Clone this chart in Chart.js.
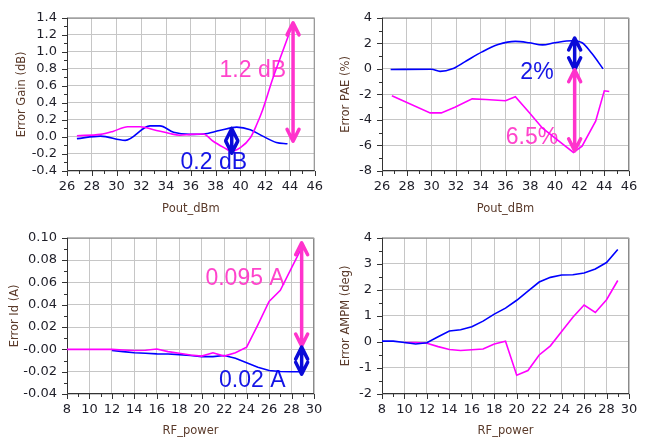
<!DOCTYPE html>
<html>
<head>
<meta charset="utf-8">
<script src="https://cdn.jsdelivr.net/npm/chart.js@4/dist/chart.umd.min.js"></script>
<style>
  html, body { margin: 0; padding: 0; background: #fff; width: 662px; height: 439px; overflow: hidden; }
  canvas { position: absolute; display: block; }
</style>
</head>
<body>
<canvas id="gain" width="331" height="220" style="left:0;top:0"></canvas>
<canvas id="pae" width="331" height="220" style="left:331px;top:0"></canvas>
<canvas id="id" width="331" height="219" style="left:0;top:220px"></canvas>
<canvas id="ampm" width="331" height="219" style="left:331px;top:220px"></canvas>
<script>
// ---- Error Gain (dB) vs Pout_dBm ----
const gainBlueX = [26.8, 28.7, 30.7, 32.7, 33.5, 34.6, 35.9, 37.0, 38.3, 39.7, 40.8, 41.8, 42.9, 43.8];
const gainBlueY = [-0.02, 0.01, -0.04, 0.13, 0.13, 0.055, 0.03, 0.035, 0.075, 0.115, 0.085, 0.01, -0.065, -0.08];
const gainPinkX = [26.8, 28.7, 29.7, 30.9, 31.9, 33.0, 34.3, 35.1, 36.0, 37.0, 37.8, 38.9, 39.2, 40.0, 40.8, 41.3, 41.8, 42.6, 43.4, 44.1];
const gainPinkY = [0.015, 0.03, 0.065, 0.12, 0.12, 0.085, 0.04, 0.02, 0.03, 0.035, -0.05, -0.145, -0.17, -0.125, -0.01, 0.14, 0.32, 0.68, 1.0, 1.28];
const gainXTicks = ['26', '28', '30', '32', '34', '36', '38', '40', '42', '44', '46'];
const gainYTicks = ['-0.4', '-0.2', '0.0', '0.2', '0.4', '0.6', '0.8', '1.0', '1.2', '1.4'];

// ---- Error PAE (%) vs Pout_dBm ----
const paeBlueX = [26.7, 30.0, 30.7, 31.7, 32.7, 34.1, 35.4, 36.8, 37.9, 39.0, 40.0, 41.4, 42.2, 43.0, 43.9];
const paeBlueY = [-0.05, -0.03, -0.2, 0.0, 0.55, 1.33, 1.9, 2.15, 2.05, 1.88, 2.05, 2.2, 2.05, 1.2, 0.0];
const paePinkX = [26.8, 29.9, 30.8, 31.9, 33.3, 34.4, 36.0, 36.8, 37.9, 39.0, 40.3, 41.5, 42.2, 43.3, 44.0, 44.4];
const paePinkY = [-2.1, -3.45, -3.45, -3.0, -2.35, -2.4, -2.5, -2.18, -3.4, -4.65, -5.65, -6.55, -6.05, -4.1, -1.72, -1.77];
const paeXTicks = ['26', '28', '30', '32', '34', '36', '38', '40', '42', '44', '46'];
const paeYTicks = ['-8', '-6', '-4', '-2', '0', '2', '4'];

// ---- Error Id (A) vs RF_power ----
const idPinkX = [8, 9, 10, 11, 12, 13, 14, 15, 16, 17, 18, 19, 20, 21, 22, 23, 24, 25, 26, 27, 28, 29];
const idPinkY = [0, 0, 0, 0, 0, -0.0005, -0.001, -0.0008, 0.0003, -0.002, -0.0035, -0.005, -0.006, -0.003, -0.006, -0.003, 0.002, 0.022, 0.043, 0.053, 0.073, 0.093];
const idBlueX = [12, 13, 14, 15, 16, 17, 18, 19, 20, 21, 22, 23, 24, 25, 26, 27, 28, 29];
const idBlueY = [-0.001, -0.002, -0.003, -0.0035, -0.004, -0.0042, -0.0047, -0.0055, -0.0065, -0.0065, -0.0055, -0.008, -0.012, -0.016, -0.019, -0.0198, -0.02, -0.02];
const idXTicks = ['8', '10', '12', '14', '16', '18', '20', '22', '24', '26', '28', '30'];
const idYTicks = ['-0.04', '-0.02', '-0.00', '0.02', '0.04', '0.06', '0.08', '0.10'];

// ---- Error AMPM (deg) vs RF_power ----
const ampmBlueX = [8, 9, 10, 11, 12, 13, 14, 15, 16, 17, 18, 19, 20, 21, 22, 23, 24, 25, 26, 27, 28, 29];
const ampmBlueY = [0.03, 0.03, -0.02, -0.08, -0.03, 0.2, 0.42, 0.47, 0.58, 0.8, 1.07, 1.3, 1.6, 1.95, 2.3, 2.48, 2.57, 2.58, 2.65, 2.8, 3.05, 3.55];
const ampmPinkX = [10, 11, 12, 13, 14, 15, 16, 17, 18, 19, 20, 21, 22, 23, 24, 25, 26, 27, 28, 29];
const ampmPinkY = [-0.02, -0.02, -0.05, -0.18, -0.29, -0.33, -0.3, -0.27, -0.08, 0.03, -1.28, -1.1, -0.5, -0.15, 0.4, 0.95, 1.42, 1.13, 1.62, 2.36];
const ampmXTicks = ['8', '10', '12', '14', '16', '18', '20', '22', '24', '26', '28', '30'];
const ampmYTicks = ['-2', '-1', '0', '1', '2', '3', '4'];

const BLUE = '#0000ff';
const PINK = '#ff00ff';
const ARROW_BLUE = '#0a0ad8';
const ARROW_PINK = '#ff33cc';
const TEXT_BLUE = '#1414e6';
const TEXT_PINK = '#ff44cc';

const TICK_FONT = { family: 'DejaVu Sans', size: 13 };
const TITLE_FONT = { family: 'DejaVu Sans', size: 11.5 };
const NOTE_FONT = '23px "Liberation Sans", Arial, sans-serif';

function points(xs, ys) {
  return xs.map((x, i) => ({ x: x, y: ys[i] }));
}

function drawArrow(ctx, x, yTop, yBot, color) {
  const hw = 6, hl = 12;
  ctx.save();
  ctx.strokeStyle = color;
  ctx.lineWidth = 3.5;
  ctx.lineCap = 'round';
  ctx.lineJoin = 'round';
  ctx.beginPath();
  ctx.moveTo(x, yTop + 1);
  ctx.lineTo(x, yBot - 1);
  ctx.moveTo(x - hw, yTop + hl);
  ctx.lineTo(x, yTop);
  ctx.lineTo(x + hw, yTop + hl);
  ctx.moveTo(x - hw, yBot - hl);
  ctx.lineTo(x, yBot);
  ctx.lineTo(x + hw, yBot - hl);
  ctx.stroke();
  ctx.restore();
}

// Axis frame, minor/major tick marks, value notes and double arrows
const decorPlugin = {
  id: 'decor',
  beforeDatasetsDraw(chart, args, opts) {
    const { ctx, chartArea: a, scales: { x, y } } = chart;
    ctx.save();
    // notes sit underneath the curves
    ctx.font = NOTE_FONT;
    ctx.textAlign = 'center';
    ctx.textBaseline = 'middle';
    (opts.notes || []).forEach(n => {
      ctx.fillStyle = n.color;
      ctx.fillText(n.text, x.getPixelForValue(n.x), y.getPixelForValue(n.y));
    });
    // frame
    ctx.lineWidth = 1;
    ctx.strokeStyle = '#8a8a8a';
    ctx.beginPath();
    ctx.moveTo(a.left, a.top + 0.5);
    ctx.lineTo(a.right - 0.5, a.top + 0.5);
    ctx.lineTo(a.right - 0.5, a.bottom);
    ctx.stroke();
    ctx.strokeStyle = '#333';
    ctx.beginPath();
    ctx.moveTo(a.left + 0.5, a.top);
    ctx.lineTo(a.left + 0.5, a.bottom - 0.5);
    ctx.lineTo(a.right, a.bottom - 0.5);
    ctx.stroke();
    // tick marks
    ctx.beginPath();
    y.ticks.forEach((t, i) => {
      const p = Math.round(y.getPixelForValue(t.value)) + 0.5;
      const len = i % 2 === 0 ? 5 : 3;
      ctx.moveTo(a.left - len, p);
      ctx.lineTo(a.left, p);
    });
    x.ticks.forEach((t, i) => {
      const p = Math.round(x.getPixelForValue(t.value)) + 0.5;
      const len = i % 2 === 0 ? 5 : 3;
      ctx.moveTo(p, a.bottom);
      ctx.lineTo(p, a.bottom + len);
    });
    ctx.stroke();
    ctx.restore();
  },
  afterDatasetsDraw(chart, args, opts) {
    const { ctx, scales: { x, y } } = chart;
    (opts.arrows || []).forEach(ar => {
      drawArrow(ctx, x.getPixelForValue(ar.x), y.getPixelForValue(ar.top), y.getPixelForValue(ar.bottom), ar.color);
    });
  }
};

function makeChart(id, p) {
  const majorGrid = ctx => (ctx.index % 2 === 0 ? '#c6c6c6' : 'rgba(0,0,0,0)');
  return new Chart(document.getElementById(id), {
    type: 'line',
    data: {
      datasets: p.series.map(s => ({
        data: points(s.x, s.y),
        borderColor: s.color,
        borderWidth: 1.6,
        pointRadius: 0,
        fill: false,
        tension: 0,
        cubicInterpolationMode: s.smooth ? 'monotone' : 'default'
      }))
    },
    options: {
      responsive: false,
      animation: false,
      events: [],
      layout: { padding: { left: 0, right: p.padRight, top: p.padTop, bottom: 0 } },
      plugins: {
        legend: { display: false },
        tooltip: { enabled: false },
        decor: { notes: p.notes, arrows: p.arrows }
      },
      scales: {
        x: {
          type: 'linear',
          min: p.xMin, max: p.xMax,
          afterFit: s => { s.height = p.xAxisHeight; },
          ticks: {
            stepSize: p.xStep / 2,
            autoSkip: false,
            maxRotation: 0,
            padding: 8,
            color: '#1e1e28',
            font: TICK_FONT,
            callback: (v, i) => (i % 2 === 0 ? p.xTicks[i / 2] : '')
          },
          grid: { color: majorGrid, drawTicks: false, lineWidth: 1 },
          border: { display: false },
          title: {
            display: true, text: p.xTitle, color: '#5a3a2a', font: TITLE_FONT,
            padding: { top: 0, bottom: p.xTitlePad }
          }
        },
        y: {
          type: 'linear',
          min: p.yMin, max: p.yMax,
          afterFit: s => { s.width = p.yAxisWidth; },
          ticks: {
            stepSize: p.yStep / 2,
            autoSkip: false,
            padding: 10,
            color: '#1e1e28',
            font: TICK_FONT,
            callback: (v, i) => (i % 2 === 0 ? p.yTicks[i / 2] : '')
          },
          grid: { color: majorGrid, drawTicks: false, lineWidth: 1 },
          border: { display: false },
          title: {
            display: true, text: p.yTitle, color: '#5a3a2a', font: TITLE_FONT,
            padding: { top: p.yTitlePad, bottom: 0 }
          }
        }
      }
    },
    plugins: [decorPlugin]
  });
}

makeChart('gain', {
  xMin: 26, xMax: 46, xStep: 2, yMin: -0.4, yMax: 1.4, yStep: 0.2,
  xTicks: gainXTicks, yTicks: gainYTicks,
  xTitle: 'Pout_dBm', yTitle: 'Error Gain (dB)',
  padRight: 16, padTop: 13, yAxisWidth: 67, xAxisHeight: 49, xTitlePad: 4.4, yTitlePad: 14.8,
  series: [
    { x: gainPinkX, y: gainPinkY, color: PINK, smooth: true },
    { x: gainBlueX, y: gainBlueY, color: BLUE, smooth: true }
  ],
  notes: [
    { text: '1.2 dB', x: 41.0, y: 0.775, color: TEXT_PINK },
    { text: '0.2 dB', x: 37.85, y: -0.30, color: TEXT_BLUE }
  ],
  arrows: [
    { x: 44.25, top: 1.34, bottom: -0.05, color: ARROW_PINK },
    { x: 39.3, top: 0.10, bottom: -0.19, color: ARROW_BLUE }
  ]
});

makeChart('pae', {
  xMin: 26, xMax: 46, xStep: 2, yMin: -8, yMax: 4, yStep: 2,
  xTicks: paeXTicks, yTicks: paeYTicks,
  xTitle: 'Pout_dBm', yTitle: 'Error PAE (%)',
  padRight: 33, padTop: 13, yAxisWidth: 51, xAxisHeight: 49, xTitlePad: 4.4, yTitlePad: 8.1,
  series: [
    { x: paeBlueX, y: paeBlueY, color: BLUE, smooth: true },
    { x: paePinkX, y: paePinkY, color: PINK, smooth: false }
  ],
  notes: [
    { text: '2%', x: 38.55, y: -0.32, color: TEXT_BLUE },
    { text: '6.5%', x: 38.14, y: -5.4, color: TEXT_PINK }
  ],
  arrows: [
    { x: 41.6, top: 2.42, bottom: -0.07, color: ARROW_BLUE },
    { x: 41.6, top: -0.07, bottom: -6.42, color: ARROW_PINK }
  ]
});

makeChart('id', {
  xMin: 8, xMax: 30, xStep: 2, yMin: -0.04, yMax: 0.10, yStep: 0.02,
  xTicks: idXTicks, yTicks: idYTicks,
  xTitle: 'RF_power', yTitle: 'Error Id (A)',
  padRight: 17, padTop: 16.7, yAxisWidth: 67, xAxisHeight: 45, xTitlePad: 1.4, yTitlePad: 8.1,
  series: [
    { x: idPinkX, y: idPinkY, color: PINK, smooth: false },
    { x: idBlueX, y: idBlueY, color: BLUE, smooth: false }
  ],
  notes: [
    { text: '0.095 A', x: 23.86, y: 0.063, color: TEXT_PINK },
    { text: '0.02 A', x: 24.5, y: -0.028, color: TEXT_BLUE }
  ],
  arrows: [
    { x: 28.9, top: 0.0956, bottom: 0.003, color: ARROW_PINK },
    { x: 28.9, top: 0.002, bottom: -0.0223, color: ARROW_BLUE }
  ]
});

makeChart('ampm', {
  xMin: 8, xMax: 30, xStep: 2, yMin: -2, yMax: 4, yStep: 1,
  xTicks: ampmXTicks, yTicks: ampmYTicks,
  xTitle: 'RF_power', yTitle: 'Error AMPM (deg)',
  padRight: 33, padTop: 17.3, yAxisWidth: 51, xAxisHeight: 45, xTitlePad: 1.4, yTitlePad: 8.1,
  series: [
    { x: ampmBlueX, y: ampmBlueY, color: BLUE, smooth: false },
    { x: ampmPinkX, y: ampmPinkY, color: PINK, smooth: false }
  ],
  notes: [],
  arrows: []
});
</script>
</body>
</html>
